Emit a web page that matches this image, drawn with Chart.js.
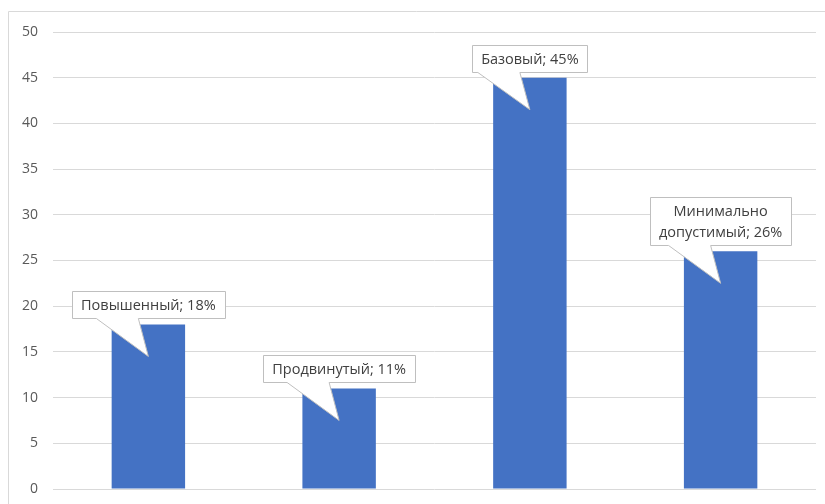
<!DOCTYPE html>
<html>
<head>
<meta charset="utf-8">
<script src="https://cdn.jsdelivr.net/npm/chart.js@4"></script>
<style>
  html, body { margin: 0; padding: 0; background: #fff; }
  #wrap { width: 825px; height: 504px; position: relative; }
</style>
</head>
<body>
<div id="wrap"><canvas id="myChart" width="825" height="504"></canvas></div>
<script>
const categories = ['Повышенный', 'Продвинутый', 'Базовый', 'Минимально допустимый'];
const values = [18, 11, 45, 26];
// callout text per bar, split into lines as in the picture
const calloutLines = [
  ['Повышенный; 18%'],
  ['Продвинутый; 11%'],
  ['Базовый; 45%'],
  ['Минимально', 'допустимый; 26%']
];
const yTicks = [0, 5, 10, 15, 20, 25, 30, 35, 40, 45, 50];

const FONT = '"Open Sans", "Liberation Sans", sans-serif';

// outer chart frame (only top and left edges are visible in the picture)
const framePlugin = {
  id: 'frame',
  beforeDraw(chart) {
    const ctx = chart.ctx;
    ctx.save();
    ctx.strokeStyle = '#d9d9d9';
    ctx.lineWidth = 1;
    ctx.beginPath();
    ctx.moveTo(8.5, chart.height);
    ctx.lineTo(8.5, 11.5);
    ctx.lineTo(chart.width, 11.5);
    ctx.stroke();
    ctx.restore();
  }
};

// speech bubble labels above each bar
const calloutPlugin = {
  id: 'callouts',
  afterDatasetsDraw(chart) {
    const ctx = chart.ctx;
    const meta = chart.getDatasetMeta(0);
    ctx.save();
    ctx.font = '14.5px ' + FONT;
    meta.data.forEach((bar, i) => {
      const lines = calloutLines[i];
      const lineH = 21;
      const w = Math.max(...lines.map(l => ctx.measureText(l).width)) + 18;
      const h = lines.length * lineH + 6;
      const cx = bar.x;
      const bottom = bar.y - 6;
      const left = Math.round(cx - w / 2) + 0.5;
      const top = Math.round(bottom - h) + 0.5;
      const right = left + Math.round(w);
      const bot = top + h;
      const tipY = bar.y + 32;
      ctx.beginPath();
      ctx.moveTo(left, top);
      ctx.lineTo(right, top);
      ctx.lineTo(right, bot);
      ctx.lineTo(cx - 10, bot);
      ctx.lineTo(cx, tipY);
      ctx.lineTo(cx - 52, bot);
      ctx.lineTo(left, bot);
      ctx.closePath();
      ctx.fillStyle = '#ffffff';
      ctx.fill();
      ctx.strokeStyle = '#bfbfbf';
      ctx.lineWidth = 1;
      ctx.stroke();
      ctx.fillStyle = '#404040';
      ctx.textAlign = 'center';
      ctx.textBaseline = 'middle';
      lines.forEach((l, k) => {
        ctx.fillText(l, cx, top + 3 + lineH * k + lineH / 2 + 1);
      });
    });
    ctx.restore();
  }
};

new Chart(document.getElementById('myChart'), {
  type: 'bar',
  data: {
    labels: categories,
    datasets: [{
      data: values,
      backgroundColor: '#4472c4',
      borderWidth: 0,
      barPercentage: 0.385,
      categoryPercentage: 1
    }]
  },
  options: {
    responsive: false,
    animation: false,
    layout: { padding: { left: 8, right: 9, top: 32, bottom: 15 } },
    plugins: { legend: { display: false }, tooltip: { enabled: false } },
    scales: {
      x: { display: false },
      y: {
        min: 0,
        max: 50,
        afterFit(scale) {
          scale.width = 45;
          scale.paddingTop = 0;
          scale.paddingBottom = 0;
        },
        afterBuildTicks(scale) { scale.ticks = yTicks.map(v => ({ value: v })); },
        border: { display: false },
        grid: { color: '#d9d9d9', lineWidth: 1, drawTicks: false },
        ticks: { color: '#595959', font: { family: FONT, size: 14 }, padding: 15 }
      }
    }
  },
  plugins: [framePlugin, calloutPlugin]
});
</script>
</body>
</html>
